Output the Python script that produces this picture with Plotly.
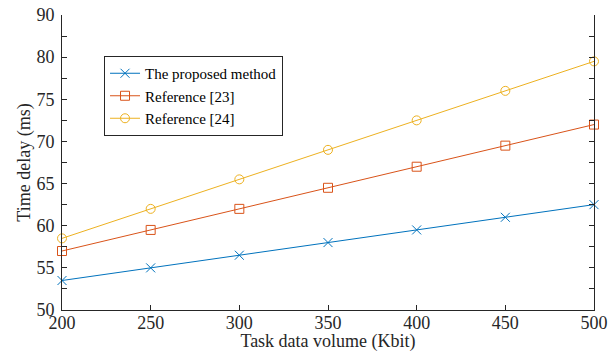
import plotly.graph_objects as go

data_volume = [200, 250, 300, 350, 400, 450, 500]
proposed = [53.5, 55, 56.5, 58, 59.5, 61, 62.5]
ref23 = [57, 59.5, 62, 64.5, 67, 69.5, 72]
ref24 = [58.5, 62, 65.5, 69, 72.5, 76, 79.5]
y_tickvals = [50, 55, 60, 65, 70, 75, 80, 85]
y_ticktext = ["50", "55", "60", "65", "70", "75", "80", "90"]
x_tickvals = [200, 250, 300, 350, 400, 450, 500]

FONT = "Liberation Serif"
fig = go.Figure()
series = [
    ("The proposed method", proposed, "#0072BD", "x-thin-open"),
    ("Reference [23]", ref23, "#D95319", "square-open"),
    ("Reference [24]", ref24, "#EDB120", "circle-open"),
]
for name, vals, col, sym in series:
    fig.add_trace(go.Scatter(
        x=data_volume, y=vals, name=name, mode="lines+markers",
        line=dict(color=col, width=1),
        marker=dict(symbol=sym, size=9, color=col, line=dict(color=col, width=1)),
        cliponaxis=False,
    ))

fig.update_layout(
    width=609, height=352,
    margin=dict(l=62, r=15, t=15, b=42, autoexpand=False),
    paper_bgcolor="white", plot_bgcolor="white",
    font=dict(family=FONT, size=19, color="#262626"),
    showlegend=True,
    legend=dict(
        x=0.079, y=0.861, xanchor="left", yanchor="top",
        bgcolor="white", bordercolor="#262626", borderwidth=1,
        font=dict(family=FONT, size=15, color="#000000"),
        itemwidth=30, tracegroupgap=0,
    ),
)
fig.update_xaxes(
    range=[200, 500], tickvals=x_tickvals, automargin=False,
    showline=True, linecolor="#262626", linewidth=1, mirror=False,
    ticks="inside", ticklen=5, tickcolor="#262626",
    showgrid=False, zeroline=False, ticklabelstandoff=-4,
    title=dict(text="Task data volume (Kbit)", standoff=3, font=dict(family=FONT, size=18)),
    tickfont=dict(family=FONT, size=18),
)
fig.update_yaxes(
    range=[50, 85], tickvals=y_tickvals, ticktext=y_ticktext, automargin=False,
    showline=True, linecolor="#262626", linewidth=1, mirror="ticks",
    ticks="inside", ticklen=5, tickcolor="#262626",
    minor=dict(dtick=2.5, tick0=50, ticks="inside", ticklen=5, tickcolor="#262626"),
    showgrid=False, zeroline=False, ticklabelstandoff=3,
    title=dict(text="Time delay (ms)", standoff=1, font=dict(family=FONT, size=18)),
    tickfont=dict(family=FONT, size=18),
)
# remove the browser's default 8px body margin so the figure fills the window
fig.write_html("out.html", config={"displayModeBar": False},
               post_script="document.body.style.margin='0';")
